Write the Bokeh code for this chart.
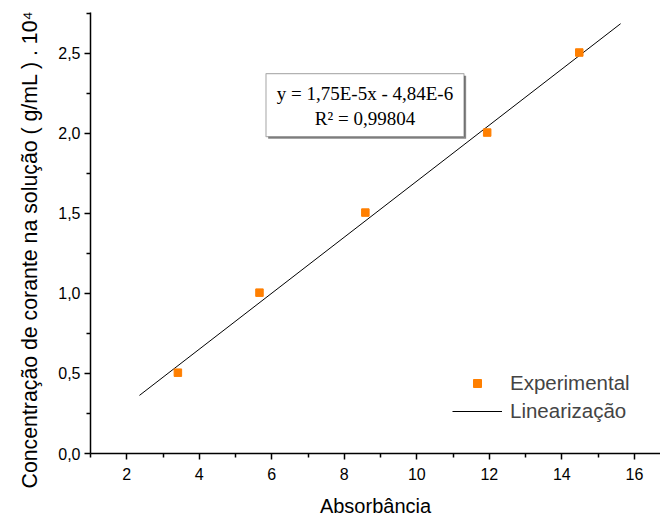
from bokeh.plotting import figure
from bokeh.models import (Range1d, FixedTicker, Legend, LegendItem, Label, BoxAnnotation, Title)
from bokeh.embed import file_html
from bokeh.resources import INLINE

# ---- data ----
absorbancia = [3.41, 5.66, 8.58, 11.94, 14.48]
concentracao = [0.505, 1.005, 1.505, 2.005, 2.505]
fit_slope = 1.75e-5
fit_intercept = -4.84e-6
fit_scale = 1e4
fit_x = [2.35, 15.62]
fit_y = [(fit_slope * x + fit_intercept) * fit_scale for x in fit_x]

x_ticks = [2, 4, 6, 8, 10, 12, 14, 16]
x_minor = [1, 3, 5, 7, 9, 11, 13, 15]
y_ticks = [0.0, 0.5, 1.0, 1.5, 2.0, 2.5]
y_minor = [0.25, 0.75, 1.25, 1.75, 2.25, 2.75]
y_tick_labels = ["0,0", "0,5", "1,0", "1,5", "2,0", "2,5"]

x_title = "Absorbância"
y_title = "Concentração de corante na solução ( g/mL ) . 10\u2074"
eq_text = "y = 1,75E-5x - 4,84E-6"
r2_text = "R\u00b2 = 0,99804"

FONT = "Liberation Sans"

p = figure(width=660, height=520, output_backend="svg", toolbar_location=None,
           x_range=Range1d(1, 16.72), y_range=Range1d(0, 2.755),
           min_border_left=90, min_border_right=0, min_border_top=12, min_border_bottom=67)
p.outline_line_color = None
p.xgrid.visible = False
p.ygrid.visible = False
p.background_fill_color = "white"
p.border_fill_color = "white"

for ax in (p.xaxis[0], p.yaxis[0]):
    ax.major_tick_in = 0
    ax.major_tick_out = 6
    ax.minor_tick_in = 0
    ax.minor_tick_out = 4
    ax.axis_line_width = 1.5
    ax.major_tick_line_width = 1.5
    ax.minor_tick_line_width = 1.5
    ax.major_label_text_font = FONT
    ax.major_label_text_font_size = "16px"
    ax.major_label_text_color = "black"
    ax.axis_label_text_font = FONT
    ax.axis_label_text_font_size = "20px"
    ax.axis_label_text_font_style = "normal"
    ax.axis_label_text_color = "black"

p.xaxis.ticker = FixedTicker(ticks=x_ticks, minor_ticks=x_minor)
p.yaxis.ticker = FixedTicker(ticks=y_ticks, minor_ticks=y_minor)
p.yaxis.major_label_overrides = {t: l for t, l in zip(y_ticks, y_tick_labels)}
p.xaxis.major_label_standoff = 8
p.yaxis.major_label_standoff = 4
p.xaxis.axis_label = x_title
p.xaxis.axis_label_standoff = 12

# y title as a left-side title, starting below the frame like in the original
p.add_layout(Title(text=y_title, align="left", offset=-35, standoff=28,
                   text_font=FONT, text_font_size="21.3px", text_font_style="normal",
                   text_color="black"), "left")

line_r = p.line(fit_x, fit_y, line_color="black", line_width=1)
pts = p.scatter(absorbancia, concentracao, marker="square", size=7.5,
                fill_color="#FF7F00", line_color="#FF7F00")

# equation box with shadow
p.add_layout(BoxAnnotation(left=5.90, right=11.36, top=2.36, bottom=1.966,
                           fill_color="#888888", fill_alpha=1.0, line_color=None, level="overlay"))
p.add_layout(BoxAnnotation(left=5.84, right=11.30, top=2.373, bottom=1.979,
                           fill_color="white", fill_alpha=1.0, line_color="black",
                           line_width=1.2, level="overlay"))
for txt, yy in ((eq_text, 2.248), (r2_text, 2.092)):
    p.add_layout(Label(x=8.57, y=yy, text=txt, text_align="center", text_baseline="middle",
                       text_font="Liberation Serif", text_font_size="19px", text_color="black",
                       level="overlay"))

legend = Legend(items=[LegendItem(label="Experimental", renderers=[pts]),
                       LegendItem(label="Linearização", renderers=[line_r])],
                location=(362, 30), border_line_alpha=0, background_fill_alpha=0,
                padding=0, margin=0, spacing=4, glyph_height=20, glyph_width=50,
                label_standoff=8, label_text_font=FONT, label_text_font_size="20.5px")
p.add_layout(legend)

open("out.html", "w").write(file_html(p, INLINE))
